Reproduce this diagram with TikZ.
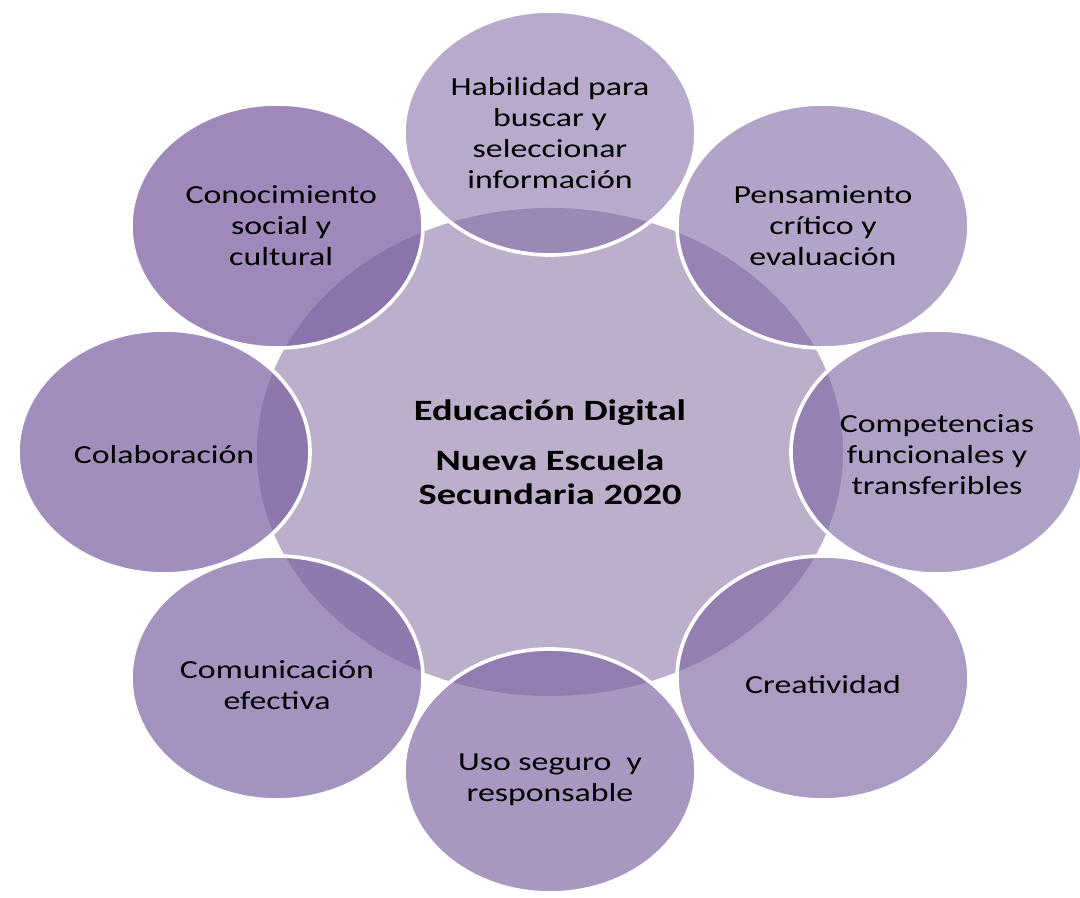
\documentclass[tikz,border=0pt]{standalone}
\usepackage{fontspec}
\setmainfont{Carlito}[FakeStretch=1.3]
\definecolor{cc}{HTML}{BCAFCB}
\definecolor{ea}{HTML}{B8AACC}
\definecolor{eb}{HTML}{B2A3C8}
\definecolor{ec}{HTML}{AFA0C6}
\definecolor{ed}{HTML}{AC9CC3}
\definecolor{ee}{HTML}{A897C1}
\definecolor{ef}{HTML}{A593BF}
\definecolor{eg}{HTML}{A28EBD}
\definecolor{eh}{HTML}{9F89BA}
\definecolor{dk}{HTML}{6E5596}
\begin{document}
\begin{tikzpicture}[x=0.025cm,y=0.025cm,
  rim/.style={draw=white,line width=2.6pt},
  lbl/.style={font=\fontsize{18.5}{22}\selectfont, align=center, text=black},
  ttl/.style={font=\bfseries\fontsize{21}{24}\selectfont, align=center, text=black}]
\useasboundingbox (0,0) rectangle (1080,898);
\coordinate (m) at (550,446);
\coordinate (p1) at (550,765);
\coordinate (p2) at (823,672);
\coordinate (p3) at (937,446);
\coordinate (p4) at (823,220);
\coordinate (p5) at (550,127);
\coordinate (p6) at (277,220);
\coordinate (p7) at (164,446);
\coordinate (p8) at (277,672);
\fill[cc] (m) ellipse [x radius=293, y radius=244];
\foreach \p/\c in {p1/ea,p2/eb,p3/ec,p4/ed,p5/ee,p6/ef,p7/eg,p8/eh}
  \fill[\c] (\p) ellipse [x radius=146, y radius=122];
\begin{scope}
  \clip (m) ellipse [x radius=293, y radius=244];
  \foreach \p/\c in {p1/ea,p2/eb,p3/ec,p4/ed,p5/ee,p6/ef,p7/eg,p8/eh}
    \fill[\c!60!dk] (\p) ellipse [x radius=146, y radius=122];
\end{scope}
\foreach \p in {p1,p2,p3,p4,p5,p6,p7,p8}
  \draw[rim] (\p) ellipse [x radius=146, y radius=122];
\node[ttl] (t0) at (m) {Educación Digital\\[12pt]Nueva Escuela\\Secundaria 2020};
\node[lbl] (t1) at (p1) {Habilidad para\\buscar y\\seleccionar\\información};
\node[lbl] (t2) at (p2) {Pensamiento\\crítico y\\evaluación};
\node[lbl] (t3) at ([yshift=-2]p3) {Competencias\\funcionales y\\transferibles};
\node[lbl] (t4) at ([yshift=-5]p4) {Creatividad};
\node[lbl] (t5) at ([yshift=-6]p5) {Uso seguro~ y\\responsable};
\node[lbl] (t6) at ([yshift=-5]p6) {Comunicación\\efectiva};
\node[lbl] (t7) at ([yshift=-2]p7) {Colaboración};
\node[lbl] (t8) at ([xshift=3]p8) {Conocimiento\\social y\\cultural};
\end{tikzpicture}
\end{document}
